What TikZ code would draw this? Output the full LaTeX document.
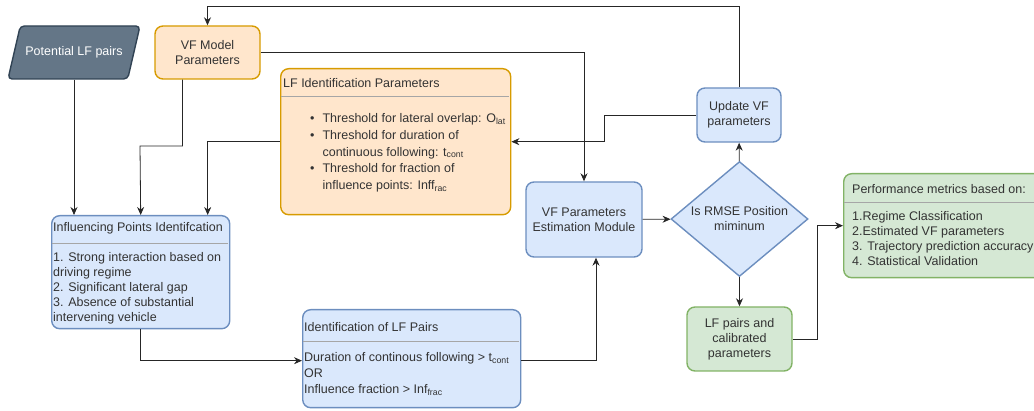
\documentclass[tikz,border=0pt]{standalone}
\usepackage{fontspec}
\setmainfont{Liberation Sans}
\usetikzlibrary{arrows.meta,shapes.geometric}

\definecolor{orfill}{HTML}{FFE6CC}
\definecolor{ordraw}{HTML}{D79B00}
\definecolor{blfill}{HTML}{DAE8FC}
\definecolor{bldraw}{HTML}{6C8EBF}
\definecolor{grfill}{HTML}{D5E8D4}
\definecolor{grdraw}{HTML}{82B366}
\definecolor{pafill}{HTML}{647687}
\definecolor{padraw}{HTML}{314354}

\tikzset{
  box/.style={draw, rounded corners=8pt, line width=1.4pt, inner sep=2pt, align=center, text=black!80, font=\fontsize{12.5}{15}\selectfont},
  orangebox/.style={box, fill=orfill, draw=ordraw},
  bluebox/.style={box, fill=blfill, draw=bldraw},
  greenbox/.style={box, fill=grfill, draw=grdraw},
  para/.style={trapezium, trapezium left angle=57, trapezium right angle=123, trapezium stretches=true, draw=padraw, fill=pafill, line width=1.4pt, rounded corners=4pt, text=white, font=\fontsize{12.5}{15}\selectfont},
  txt/.style={inner sep=0pt, align=left, anchor=west, text=black!80, font=\fontsize{12.5}{15}\selectfont},
  sepline/.style={draw=gray!70, line width=0.6pt},
  link/.style={draw=black!85, line width=0.8pt, -{Stealth[length=8pt,width=7pt]}},
}

\begin{document}
\begin{tikzpicture}[x=1pt, y=-1pt]
  \useasboundingbox (0,0) rectangle (1034,411);
  \clip (0,0) rectangle (1034,411);

  % top row
  \node[para, minimum width=132, minimum height=53] (potential) at (74,52.5) {Potential LF pairs};
  \node[orangebox, minimum width=105, minimum height=53] (vfmodel) at (207.5,52.5) {VF Model\\Parameters};

  % LF identification parameters
  \node[orangebox, minimum width=230, minimum height=146, anchor=north west] (lfid) at (280,68) {};
  \node[txt] (lfidhead) at (283,83) {LF Identification Parameters};
  \draw[sepline] (281,96) -- (509,96);
  \node[txt, anchor=base west, font=\fontsize{12.5}{16.8}\selectfont] (lfidbody) at (310,122.5) {%
    \begin{tabular}[t]{@{}l@{\hspace{8pt}}l@{}}
      \textbullet & Threshold for lateral overlap: O\textsubscript{lat}\\
      \textbullet & Threshold for duration of\\
                  & continuous following: t\textsubscript{cont}\\
      \textbullet & Threshold for fraction of\\
                  & influence points: Inff\textsubscript{rac}
    \end{tabular}};

  % influencing points
  \node[bluebox, minimum width=178, minimum height=113, anchor=north west] (infl) at (51,215) {};
  \node[txt] (inflhead) at (53,228.5) {Influencing Points Identifcation};
  \draw[sepline] (52,243) -- (228,243);
  \node[txt, anchor=base west] (inflbody) at (53,321.5) {1. Strong interaction based on\\driving regime\\2. Significant lateral gap\\3. Absence of substantial\\intervening vehicle};

  % identification of LF pairs
  \node[bluebox, minimum width=218, minimum height=98, anchor=north west] (lfpairs) at (302,309) {};
  \node[txt] (lfpairshead) at (304,327) {Identification of LF Pairs};
  \draw[sepline] (303,341) -- (519,341);
  \node[txt, anchor=base west, font=\fontsize{12.5}{16}\selectfont] (lfpairsbody) at (304,393.5) {Duration of continous following > t\textsubscript{cont}\\OR\\Influence fraction > Inf\textsubscript{frac}};

  % estimation loop
  \node[bluebox, minimum width=116, minimum height=75] (vfest) at (584,219.5) {VF Parameters\\Estimation Module};
  \node[diamond, draw=bldraw, fill=blfill, line width=1.4pt, inner sep=0pt, minimum width=137, minimum height=115] (rmse) at (739.5,219) {};
  \node[txt, anchor=center, align=center] (rmsetxt) at (rmse) {Is RMSE Position\\miminum};
  \node[bluebox, minimum width=84, minimum height=54] (update) at (739,115) {Update VF\\parameters};
  \node[greenbox, minimum width=105, minimum height=64] (lfcal) at (739.5,339) {LF pairs and\\calibrated\\parameters};

  % performance metrics
  \node[greenbox, minimum width=205, minimum height=104, anchor=north west] (perf) at (843,173) {};
  \node[txt] (perfhead) at (852,189) {Performance metrics based on:};
  \draw[sepline] (844,202) -- (1040,202);
  \node[txt, anchor=base west] (perfbody) at (852,266) {1.Regime Classification\\2.Estimated VF parameters\\3. Trajectory prediction accuracy\\4. Statistical Validation};

  % connectors
  \draw[link] (update.north) -- (739,6) -| (vfmodel.north);
  \draw[link] (vfmodel.east) -| (vfest.north);
  \draw[link] ([xshift=-25pt]vfmodel.south) |- (140,146) -- (infl.north);
  \draw[link] (potential.center |- potential.south) -- (potential.center |- infl.north);
  \draw[link] (lfid.west) -| ([xshift=67pt]infl.north);
  \draw[link] (update.west) -- (604,115) |- (lfid.east);
  \draw[link] (infl.south) |- ([yshift=-2pt]lfpairs.west);
  \draw[link] ([yshift=-2pt]lfpairs.east) -| ([xshift=12pt]vfest.south);
  \draw[link] (vfest) -- (rmse);
  \draw[link] (rmse) -- (update);
  \draw[link] (rmse) -- (lfcal);
  \draw[link] (lfcal.east) -- (817,339) |- (perf.west);
\end{tikzpicture}
\end{document}
